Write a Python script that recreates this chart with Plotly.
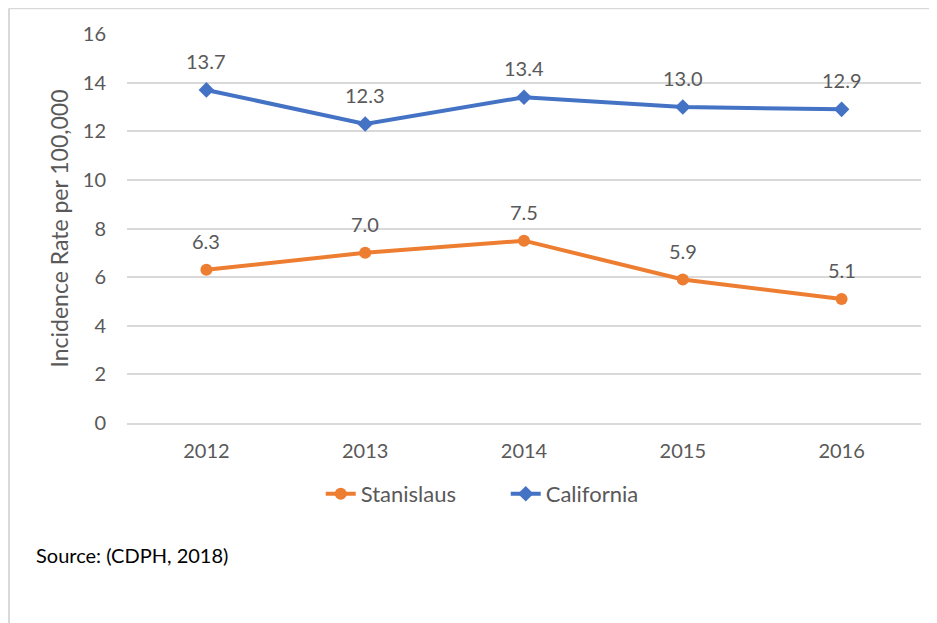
import plotly.graph_objects as go

years = ["2012", "2013", "2014", "2015", "2016"]
stanislaus = [6.3, 7.0, 7.5, 5.9, 5.1]
california = [13.7, 12.3, 13.4, 13.0, 12.9]
y_ticks = [0, 2, 4, 6, 8, 10, 12, 14, 16]

ORANGE = "#ED7D31"
BLUE = "#4472C4"
GRAY = "#595959"
FONT = "Lato, Open Sans, sans-serif"

fig = go.Figure()
fig.add_trace(go.Scatter(x=years, y=stanislaus, name="Stanislaus", mode="lines+markers",
                         line=dict(color=ORANGE, width=4),
                         marker=dict(symbol="circle", size=12, color=ORANGE)))
fig.add_trace(go.Scatter(x=years, y=california, name="California", mode="lines+markers",
                         line=dict(color=BLUE, width=4),
                         marker=dict(symbol="diamond", size=12, color=BLUE)))

annotations = []
for series in (stanislaus, california):
    for i, v in enumerate(series):
        annotations.append(dict(x=i, y=v, xref="x", yref="y", text=f"{v:.1f}",
                                showarrow=False, yshift=29,
                                font=dict(size=20, color=GRAY, family=FONT)))
annotations.append(dict(x=-0.1175, y=-0.339, xref="paper", yref="paper",
                        text="Source: (CDPH, 2018)", showarrow=False,
                        xanchor="left", yanchor="middle",
                        font=dict(size=20, color="#000000", family=FONT)))

fig.update_layout(
    width=929, height=615,
    margin=dict(l=119, r=16, t=26, b=200),
    paper_bgcolor="white", plot_bgcolor="white",
    font=dict(family=FONT, color=GRAY, size=20),
    showlegend=True,
    legend=dict(orientation="h", x=0.477, xanchor="center", y=-0.1825, yanchor="middle",
                font=dict(size=22, color=GRAY), entrywidth=140, entrywidthmode="pixels"),
    annotations=annotations,
    shapes=[
        dict(type="line", xref="paper", yref="paper", x0=-0.1486, x1=1.03, y0=1.066, y1=1.066,
             line=dict(color="#D9D9D9", width=2)),
        dict(type="line", xref="paper", yref="paper", x0=-0.1486, x1=-0.1486, y0=1.066, y1=-0.52,
             line=dict(color="#D9D9D9", width=2)),
    ],
)
fig.update_xaxes(type="category", range=[-0.5, 4.5], showgrid=False,
                 showline=True, linecolor="#D9D9D9", linewidth=1.5,
                 tickfont=dict(size=20, color=GRAY), ticks="", ticklabelstandoff=9)
fig.update_yaxes(range=[0, 16], tickvals=y_ticks, showgrid=True, gridcolor="#D9D9D9", gridwidth=1.5,
                 zeroline=False, showline=False,
                 tickfont=dict(size=20, color=GRAY), ticklabelstandoff=20,
                 title=dict(text="Incidence Rate per 100,000", font=dict(size=23, color=GRAY), standoff=7))

fig.write_html("out.html")
